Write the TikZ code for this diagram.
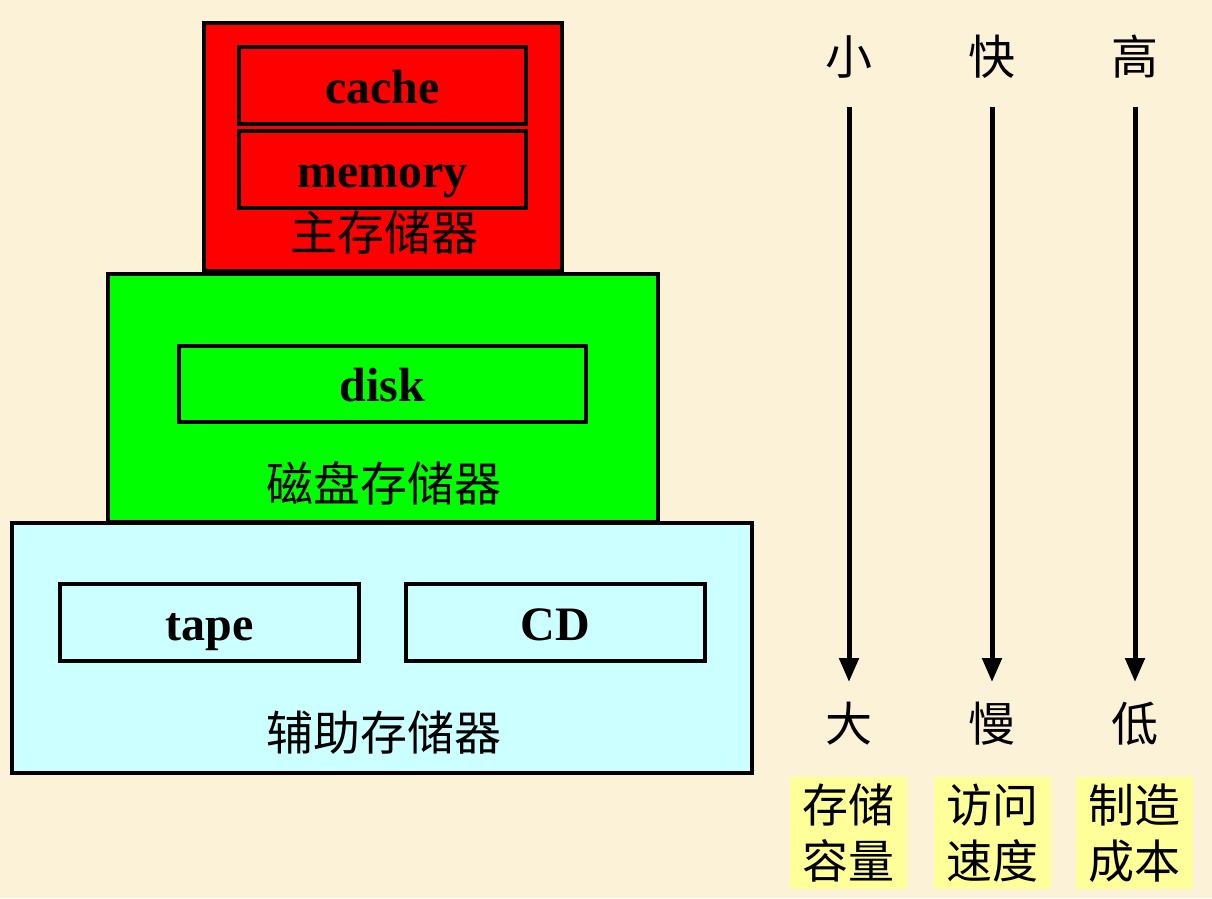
\documentclass[tikz,border=0pt]{standalone}
\usepackage{fontspec}
\setmainfont{Liberation Serif}
\newfontfamily\cjk{Noto Sans CJK SC}
\usetikzlibrary{arrows.meta}
\definecolor{bg}{HTML}{FBF2D8}
\definecolor{redbox}{HTML}{FF0000}
\definecolor{greenbox}{HTML}{00FF00}
\definecolor{cyanbox}{HTML}{CCFFFF}
\definecolor{yelbox}{HTML}{FFFF99}
\tikzset{
  outerbox/.style={draw=black, line width=4pt, rectangle, inner sep=0pt},
  innerbox/.style={draw=black, line width=3.5pt, rectangle, inner sep=0pt,
    text height=35pt, text depth=0pt,
    font=\fontsize{48}{52}\selectfont\bfseries},
  cjklabel/.style={inner sep=0pt, font=\cjk\fontsize{47}{50}\selectfont},
  yellowlabel/.style={fill=yelbox, inner sep=0pt, minimum width=117pt, minimum height=112pt,
    align=center, font=\cjk\fontsize{46}{56}\selectfont},
  downarrow/.style={line width=5pt, -{Triangle[width=19pt,length=24pt]}}
}
\begin{document}
\begin{tikzpicture}[x=1pt,y=-1pt]
\fill[bg] (0,0) rectangle (1212,898);
\useasboundingbox (0,0) rectangle (1212,898);
% main memory
\node[outerbox, fill=redbox, minimum width=358pt, minimum height=248pt] (main) at (383,147) {};
\node[innerbox, fill=redbox, minimum width=287pt, minimum height=77pt] (cache) at (382.5,85.5) {cache};
\node[innerbox, fill=redbox, minimum width=287pt, minimum height=77pt] (memory) at (382.5,169.5) {memory};
\node[cjklabel] (mainlbl) at (384,233) {主存储器};
% disk
\node[outerbox, fill=greenbox, minimum width=550pt, minimum height=248pt] (diskst) at (383,398) {};
\node[innerbox, fill=greenbox, minimum width=407pt, minimum height=76pt] (disk) at (382.5,384) {disk};
\node[cjklabel] (disklbl) at (384,483) {磁盘存储器};
% auxiliary
\node[outerbox, fill=cyanbox, minimum width=740pt, minimum height=250pt] (aux) at (382,648) {};
\node[innerbox, fill=cyanbox, minimum width=299pt, minimum height=77pt] (tape) at (209.5,622.5) {tape};
\node[innerbox, fill=cyanbox, minimum width=299pt, minimum height=77pt] (cd) at (555.5,622.5) {CD};
\node[cjklabel] (auxlbl) at (384,733) {辅助存储器};
% scales
\node[cjklabel] (small) at (849,57) {小};
\node[cjklabel] (fast) at (992,57) {快};
\node[cjklabel] (high) at (1135,57) {高};
\node[cjklabel] (large) at (849,724) {大};
\node[cjklabel] (slow) at (992,724) {慢};
\node[cjklabel] (low) at (1135,724) {低};
\coordinate (a1s) at (849,107); \coordinate (a1e) at (849,682);
\coordinate (a2s) at (992,107); \coordinate (a2e) at (992,682);
\coordinate (a3s) at (1135,107); \coordinate (a3e) at (1135,682);
\draw[downarrow] (a1s) -- (a1e);
\draw[downarrow] (a2s) -- (a2e);
\draw[downarrow] (a3s) -- (a3e);
\node[yellowlabel] (cap) at (848.5,833) {存储\\容量};
\node[yellowlabel] (spd) at (992,833) {访问\\速度};
\node[yellowlabel] (cost) at (1134.5,833) {制造\\成本};
\end{tikzpicture}
\end{document}
